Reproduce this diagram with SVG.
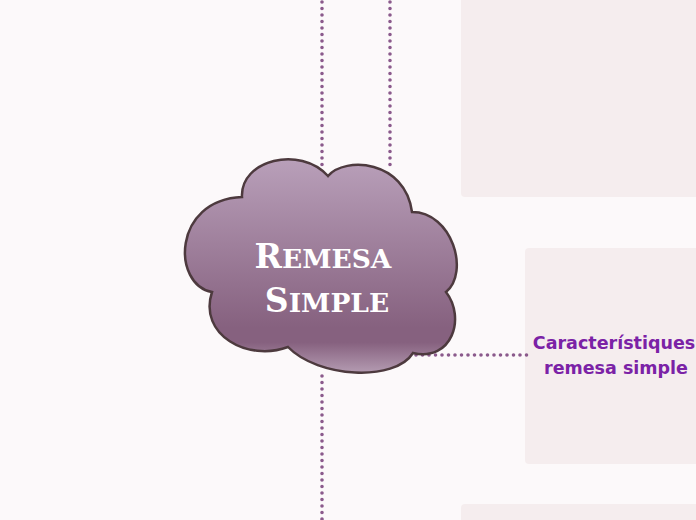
<svg xmlns="http://www.w3.org/2000/svg" width="696" height="520" viewBox="0 0 696 520">
<defs>
<linearGradient id="cloudGrad" x1="0" y1="158" x2="0" y2="370" gradientUnits="userSpaceOnUse">
<stop offset="0" stop-color="#b9a0ba"/>
<stop offset="0.8" stop-color="#86617f"/>
<stop offset="0.87" stop-color="#86617f"/>
<stop offset="1" stop-color="#b096ad"/>
</linearGradient>
<style>
.panel{fill:#f5edee;}
.conn{fill:none;stroke:#8b5a8c;stroke-width:3.6;stroke-linecap:round;stroke-dasharray:0 6.5;}
.title{font-family:"DejaVu Serif","Liberation Serif",serif;font-weight:bold;fill:#ffffff;text-anchor:middle;}
.label{font-family:"DejaVu Sans","Liberation Sans",sans-serif;font-weight:bold;fill:#7b22a6;font-size:17.5px;text-anchor:middle;}
</style>
</defs>
<rect width="696" height="520" fill="#fcf9fa"/>
<g id="panel-top"><rect class="panel" x="461" y="-10" width="245" height="207" rx="4"/></g>
<g id="panel-caracteristiques"><rect class="panel" x="525" y="248" width="181" height="216" rx="4"/></g>
<g id="panel-bottom"><rect class="panel" x="461" y="504" width="245" height="30" rx="4"/></g>
<g id="connectors">
<line class="conn" x1="322" y1="2" x2="322" y2="170"/>
<line class="conn" x1="390" y1="2" x2="390" y2="168"/>
<line class="conn" x1="322" y1="376" x2="322" y2="520"/>
<line class="conn" x1="416" y1="355" x2="527" y2="355"/>
</g>
<g id="central">
<path d="M 242 197 C 240 160 300 145 328 176 C 345 156 405 160 412 212 C 452 212 470 272 446 292 C 466 318 452 362 413 353 C 395 382 318 378 288 347 C 248 362 198 335 212 292 C 172 285 172 200 242 197 Z" fill="url(#cloudGrad)" stroke="#4d3a3e" stroke-width="2.5"/>
<text class="title" x="323" y="268"><tspan font-size="33">R</tspan><tspan font-size="26.5">EMESA</tspan></text>
<text class="title" x="327" y="312"><tspan font-size="33">S</tspan><tspan font-size="26.5">IMPLE</tspan></text>
</g>
<g id="caracteristiques">
<text class="label" x="614" y="349">Característiques</text>
<text class="label" x="616" y="374">remesa simple</text>
</g>
</svg>
